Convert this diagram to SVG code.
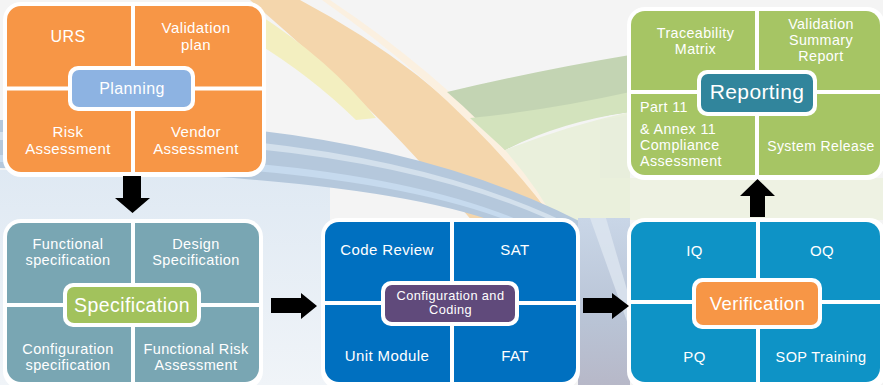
<svg xmlns="http://www.w3.org/2000/svg" width="883" height="385" viewBox="0 0 883 385">
<defs>
<style>
.frame{fill:#ffffff}
.div{stroke:#ffffff;stroke-width:4}
.t{font-family:"Liberation Sans",Arial,sans-serif;fill:#ffffff;text-anchor:middle;letter-spacing:0.4px}
.s14{font-size:14.3px}
.s145{font-size:14.5px}
.s15{font-size:15px}
.s16{font-size:16px}
.arrow{fill:#000000}
</style>
<linearGradient id="gapL" x1="0" y1="0" x2="0" y2="1">
<stop offset="0" stop-color="#dfe9f3"/>
<stop offset="1" stop-color="#f0f4f8"/>
</linearGradient>
<linearGradient id="gapR" x1="0" y1="0" x2="0" y2="1">
<stop offset="0" stop-color="#c9d6e7"/>
<stop offset="0.6" stop-color="#b9c4d6"/>
<stop offset="1" stop-color="#b7b8c8"/>
</linearGradient>
</defs>
<g id="background">
<rect x="0" y="0" width="883" height="385" fill="#f4f4f4"/>
<rect x="0" y="170" width="330" height="215" fill="url(#gapL)"/>
<path d="M300,0 Q470,90 560,230 L480,230 Q420,160 380,120 Q320,60 250,0 Z" fill="#f4d6ac"/>
<path d="M255,12 Q330,60 376,118 L356,120 Q310,75 252,40 Z" fill="#f3efc0"/>
<path d="M330,0 Q480,100 570,225 L562,230 Q470,104 322,0 Z" fill="#fbf0e0"/>
<path d="M447,92 Q540,70 630,55 L630,112 Q560,120 505,150 Q480,120 447,92 Z" fill="#c3d4b3"/>
<path d="M470,118 Q550,110 630,92 L630,112 Q560,122 505,150 Z" fill="#d3e3bd"/>
<path d="M505,150 Q570,125 630,112 L630,230 L560,230 Q540,190 505,150 Z" fill="#eaf0dc"/>
<path d="M0,120 Q380,110 600,232 L520,232 Q400,175 0,168 Z" fill="#b5c8dc"/>
<path d="M0,132 Q380,125 585,232 L575,232 Q380,132 0,140 Z" fill="#d3e0ec"/>
<path d="M0,155 Q380,150 545,232 L535,232 Q380,160 0,162 Z" fill="#c6daee"/>
<rect x="578" y="218" width="52" height="167" fill="url(#gapR)"/>
<path d="M590,218 L606,218 L630,300 L630,330 Z" fill="#dde6f0" opacity="0.8"/>
<rect x="630" y="178" width="253" height="42" fill="#eef2e3"/>
<path d="M600,120 Q615,118 630,115 L630,178 L600,178 Z" fill="#e8eedc"/>
</g>
<g id="planning">
<rect class="frame" x="3" y="2" width="263" height="175" rx="18"/>
<rect x="7" y="6" width="255" height="166" rx="14" fill="#f79646"/>
<line class="div" x1="133" y1="6" x2="133" y2="172"/>
<line class="div" x1="7" y1="88.5" x2="262" y2="88.5"/>
<rect class="frame" x="68" y="66" width="127" height="45" rx="10"/>
<rect x="72" y="70" width="119" height="37" rx="7" fill="#8db3e2"/>
<text class="t s16" x="68" y="42">URS</text>
<text class="t s15" x="196" y="32.5">Validation<tspan x="196" dy="17">plan</tspan></text>
<text class="t s15" x="68" y="137">Risk<tspan x="68" dy="17">Assessment</tspan></text>
<text class="t s15" x="196" y="137">Vendor<tspan x="196" dy="17">Assessment</tspan></text>
<text class="t s16" x="132" y="94">Planning</text>
</g>
<g id="specification">
<rect class="frame" x="3" y="219" width="260" height="170" rx="18"/>
<rect x="7" y="223" width="252" height="159" rx="14" fill="#79a6b3"/>
<line class="div" x1="133" y1="223" x2="133" y2="382"/>
<line class="div" x1="7" y1="305" x2="259" y2="305"/>
<rect class="frame" x="63" y="283" width="138" height="44" rx="10"/>
<rect x="67" y="287" width="130" height="36" rx="7" fill="#a2c25c"/>
<text class="t s145" x="68" y="248.5">Functional<tspan x="68" dy="16.5">specification</tspan></text>
<text class="t s145" x="196" y="248.5">Design<tspan x="196" dy="16.5">Specification</tspan></text>
<text class="t s145" x="68" y="353.5">Configuration<tspan x="68" dy="16.5">specification</tspan></text>
<text class="t s145" x="196" y="353.5">Functional Risk<tspan x="196" dy="16.5">Assessment</tspan></text>
<text class="t" style="font-size:19.5px" x="132" y="312">Specification</text>
</g>
<g id="configuration">
<rect class="frame" x="321" y="218" width="259" height="171" rx="18"/>
<rect x="325" y="222" width="251" height="160" rx="14" fill="#0070c0"/>
<line class="div" x1="452" y1="222" x2="452" y2="382"/>
<line class="div" x1="325" y1="303" x2="576" y2="303"/>
<rect class="frame" x="381" y="281" width="138" height="45" rx="10"/>
<rect x="385" y="285" width="130" height="37" rx="7" fill="#604a7b"/>
<text class="t s15" x="387" y="255">Code Review</text>
<text class="t s15" x="515" y="255">SAT</text>
<text class="t s15" x="387" y="361">Unit Module</text>
<text class="t s15" x="515" y="361">FAT</text>
<text class="t" style="font-size:12.8px" x="450.5" y="299.5">Configuration and<tspan x="450.5" dy="14.5">Coding</tspan></text>
</g>
<g id="verification">
<rect class="frame" x="627" y="218" width="260" height="171" rx="18"/>
<rect x="631" y="222" width="249" height="160" rx="14" fill="#0e93c6"/>
<line class="div" x1="758" y1="222" x2="758" y2="382"/>
<line class="div" x1="631" y1="302" x2="880" y2="302"/>
<rect class="frame" x="692" y="278" width="130" height="51" rx="10"/>
<rect x="696" y="282" width="122" height="43" rx="7" fill="#f79646"/>
<text class="t s15" x="694.5" y="256">IQ</text>
<text class="t s15" x="822" y="256">OQ</text>
<text class="t s15" x="694.5" y="362">PQ</text>
<text class="t" style="font-size:14.5px" x="821" y="362">SOP Training</text>
<text class="t" style="font-size:18.5px" x="757.5" y="310">Verification</text>
</g>
<g id="reporting">
<rect class="frame" x="627" y="7" width="258" height="173" rx="18"/>
<rect x="631" y="11" width="249" height="164" rx="14" fill="#a6c564"/>
<line class="div" x1="757" y1="11" x2="757" y2="175"/>
<line class="div" x1="631" y1="92" x2="880" y2="92"/>
<rect class="frame" x="697" y="70" width="120" height="46" rx="10"/>
<rect x="701" y="74" width="112" height="38" rx="7" fill="#31859c"/>
<text class="t s14" x="695.5" y="38">Traceability<tspan x="695.5" dy="16">Matrix</tspan></text>
<text class="t s14" x="821" y="29">Validation<tspan x="821" dy="16">Summary</tspan><tspan x="821" dy="16">Report</tspan></text>
<text class="t s14" x="640" y="112" style="text-anchor:start">Part 11</text>
<text class="t s14" x="640" y="134" style="text-anchor:start">&amp; Annex 11<tspan x="640" dy="16">Compliance</tspan><tspan x="640" dy="16">Assessment</tspan></text>
<text class="t" style="font-size:14px" x="821" y="151">System Release</text>
<text class="t" style="font-size:21px" x="757" y="99">Reporting</text>
</g>
<g id="connectors">
<polygon class="arrow" points="123,176 141,176 141,198 150,198 132.5,213 115,198 123,198"/>
<polygon class="arrow" points="271,298 301,298 301,293 317,306 301,319 301,313 271,313"/>
<polygon class="arrow" points="583,298 612,298 612,293 629,306 612,319 612,313 583,313"/>
<polygon class="arrow" points="757.5,179 775,196 765,196 765,217 750,217 750,196 740,196"/>
</g>
</svg>
